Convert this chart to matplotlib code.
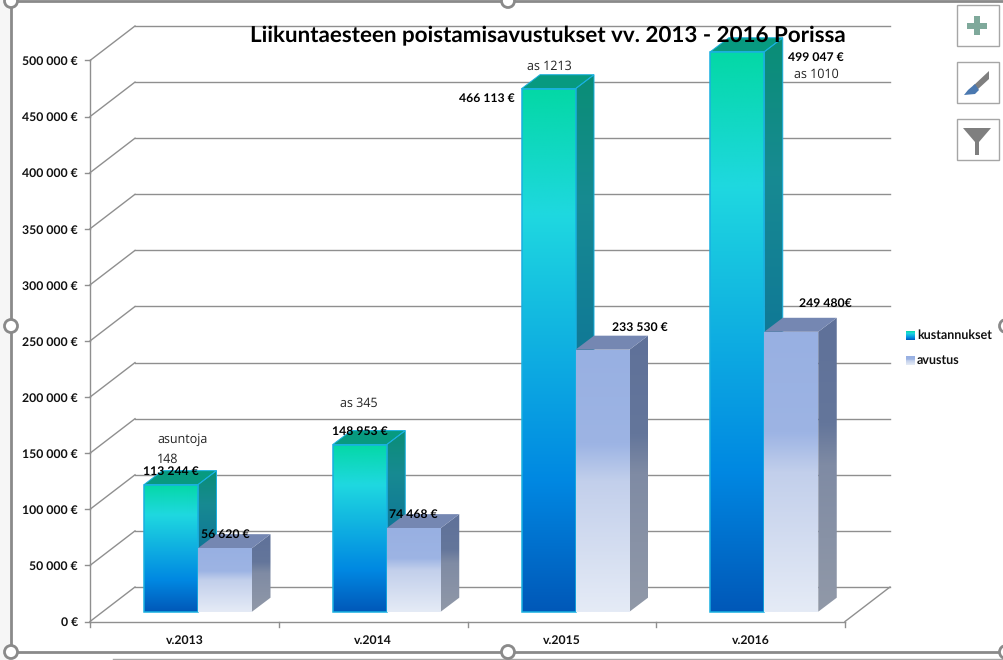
"""Recreate the 3D style column chart of accessibility grants in Pori."""

import matplotlib

matplotlib.use("Agg")
import matplotlib.pyplot as plt
import numpy as np
from matplotlib.colors import LinearSegmentedColormap
from matplotlib.patches import Circle, Polygon, Rectangle

TITLE = "Liikuntaesteen poistamisavustukset vv. 2013 - 2016 Porissa"
CATEGORIES = ["v.2013", "v.2014", "v.2015", "v.2016"]
KUSTANNUKSET = [113244, 148953, 466113, 499047]
AVUSTUS = [56620, 74468, 233530, 249480]
KUSTANNUKSET_LABELS = ["113 244 €", "148 953 €", "466 113 €", "499 047 €"]
AVUSTUS_LABELS = ["56 620 €", "74 468 €", "233 530 €", "249 480€"]
NOTES = ["asuntoja", "148", "as 345", "as 1213", "as 1010"]
TICKS = [0, 50000, 100000, 150000, 200000, 250000, 300000, 350000, 400000, 450000, 500000]
SERIES_NAMES = ["kustannukset", "avustus"]

W, H = 1004, 660
PX_PER_VAL = 561 / 500000
PX_PER_CAT = 188.75
X0, Y0 = 90, 621.5
GRID = "#8f8f8f"
LABEL_SIZE = 8.8

plt.rcParams["font.family"] = ["Lato", "DejaVu Sans"]
plt.rcParams["text.hinting"] = "no_hinting"

BLUE = [(0, "#04d8a6"), (0.24, "#1fd8e0"), (0.75, "#0088e2"), (1, "#0058b8")]
BLUE_SIDE = [(0, "#0a8e76"), (0.24, "#178a92"), (0.75, "#0a6a9a"), (1, "#06508a")]
LIGHT = [(0, "#98b0e2"), (0.36, "#9db4e4"), (0.5, "#c2cfeb"), (1, "#e5ebf6")]
LIGHT_SIDE = [(0, "#5f7199"), (0.36, "#64769b"), (0.5, "#7f8ba4"), (1, "#9199a8")]


def cmap(stops):
    return LinearSegmentedColormap.from_list("g", stops)


def px(x, y):
    """Pixel position to data position."""
    return (x - X0) / PX_PER_CAT, (Y0 - y) / PX_PER_VAL


def dpx(dx, dy):
    """Pixel offset (dy up) to data offset."""
    return dx / PX_PER_CAT, dy / PX_PER_VAL


def gradient_poly(ax, points, stops, zorder):
    pts = np.array(points)
    top, bottom = pts[:, 1].max(), pts[:, 1].min()
    img = ax.imshow(
        np.linspace(0, 1, 256).reshape(-1, 1),
        cmap=cmap(stops),
        extent=(pts[:, 0].min(), pts[:, 0].max(), bottom, top),
        origin="upper",
        aspect="auto",
        zorder=zorder,
        interpolation="bilinear",
    )
    poly = Polygon(pts, closed=True, transform=ax.transData, fc="none", ec="none")
    ax.add_patch(poly)
    img.set_clip_path(poly)


def draw_bar(ax, left, width, value, front, side, top_color, edge, zorder):
    base = dpx(0, 9.8)[1]
    ddx, ddy = dpx(18.5, 14)
    v = base + value
    right = left + width
    side_pts = [(right, base), (right + ddx, base + ddy), (right + ddx, v + ddy), (right, v)]
    top_pts = [(left, v), (right, v), (right + ddx, v + ddy), (left + ddx, v + ddy)]
    gradient_poly(ax, side_pts, side, zorder)
    ax.add_patch(Polygon(top_pts, fc=top_color, ec="none", zorder=zorder))
    if edge:
        ax.add_patch(Polygon(side_pts, fc="none", ec=edge, lw=0.7, zorder=zorder + 0.05))
        ax.add_patch(Polygon(top_pts, fc="none", ec=edge, lw=0.7, zorder=zorder + 0.05))
    gradient_poly(ax, [(left, base), (right, base), (right, v), (left, v)], front, zorder + 0.1)
    if edge:
        ax.add_patch(
            Rectangle((left, base), width, v - base, fc="none", ec=edge, lw=1.1, zorder=zorder + 0.2)
        )


def draw_walls(ax):
    ddx, ddy = dpx(45, 34.5)
    end = dpx(755, 0)[0]
    for tick in TICKS:
        ax.plot([0, ddx], [tick, tick + ddy], color=GRID, lw=1, zorder=1)
        ax.plot([ddx, end + ddx], [tick + ddy, tick + ddy], color=GRID, lw=1, zorder=1)
        ax.plot([-dpx(5, 0)[0], 0], [tick, tick], color=GRID, lw=1, zorder=1)
        ax.text(px(78, 0)[0], tick - dpx(0, 1.2)[1], f"{tick:,}".replace(",", " ") + " €", ha="right",
                va="center", fontsize=LABEL_SIZE, fontweight="bold", color="#111111", zorder=6)
    ax.plot([0, 0], [0, TICKS[-1]], color=GRID, lw=1, zorder=1)
    ax.plot([0, end], [0, 0], color=GRID, lw=1, zorder=1)
    ax.plot([end, end + ddx], [0, ddy], color=GRID, lw=1, zorder=1)
    for i in range(len(CATEGORIES) + 1):
        ax.plot([i, i], [0, -dpx(0, 5)[1]], color=GRID, lw=1, zorder=1)


def draw_chrome(ax):
    """Selection frame and the three chart buttons, in pixel coordinates."""
    ax.add_patch(Rectangle((0, 0), 11, H, fc="#f6f6f6", ec="none", zorder=0))
    ax.plot([11, 11, W], [652, 1, 1], color="#8a8a8a", lw=2, zorder=7)
    ax.plot([11, W], [652, 652], color="#8a8a8a", lw=2, zorder=7)
    ax.plot([113, W], [658.5, 658.5], color="#a8a8a8", lw=1, zorder=7)
    for cx, cy in [(11, 1), (508, 1), (11, 326), (1006, 326), (11, 652), (508, 652), (1006, 652)]:
        ax.add_patch(Circle((cx, cy), 6.5, fc="white", ec="#8a8a8a", lw=2, zorder=8))
    for y in (5, 62, 119):
        ax.add_patch(Rectangle((957, y), 42, 41, fc="white", ec="#a6a6a6", lw=1, zorder=7))
    ax.add_patch(Rectangle((974, 16), 6, 19, fc="#7fa99b", ec="none", zorder=8))
    ax.add_patch(Rectangle((967, 22.5), 20, 6, fc="#7fa99b", ec="none", zorder=8))
    ax.add_patch(Polygon([(989, 71), (989, 79), (977, 90), (973, 86)], fc="#7f7f7f", ec="none", zorder=8))
    ax.add_patch(Polygon([(975, 84), (979, 90), (975, 94), (964, 95), (968, 90)], fc="#4a78b0", ec="none", zorder=8))
    ax.add_patch(Polygon([(963, 128), (991, 128), (979, 142), (979, 155), (975, 155), (975, 142)],
                         fc="#7f7f7f", ec="none", zorder=8))
    ax.text(917, 335, SERIES_NAMES[0], fontsize=9, fontweight="bold", va="center", color="#111111")
    ax.text(917, 360, SERIES_NAMES[1], fontsize=9, fontweight="bold", va="center", color="#111111")
    ax.text(547.5, 36, TITLE, fontsize=16.1, fontweight="bold", ha="center", va="center",
            color="black", zorder=9)


def main():
    fig = plt.figure(figsize=(W / 100, H / 100), dpi=100)
    ax = fig.add_axes([0, 0, 1, 1])
    xlim = (-X0 / PX_PER_CAT, (W - X0) / PX_PER_CAT)
    ylim = ((Y0 - H) / PX_PER_VAL, Y0 / PX_PER_VAL)
    ax.axis("off")
    draw_walls(ax)

    bar_w = 54 / PX_PER_CAT
    starts = [54 / PX_PER_CAT + i for i in range(len(CATEGORIES))]
    for i, left in enumerate(starts):
        draw_bar(ax, left, bar_w, KUSTANNUKSET[i], BLUE, BLUE_SIDE, "#079a80", "#19b0e0", 2 + i)
        draw_bar(ax, left + bar_w, bar_w, AVUSTUS[i], LIGHT, LIGHT_SIDE, "#7587b2", None, 2.5 + i)
        ax.text(i + 0.5, -dpx(0, 18.5)[1], CATEGORIES[i], ha="center", va="center",
                fontsize=LABEL_SIZE, fontweight="bold", color="#111111")
    ax.set_xlim(*xlim)
    ax.set_ylim(*ylim)

    # text labels sit where they were dragged by hand in the original
    label_pos = [(171, 471.5), (360, 431.5), (487, 98), (816, 57.5)]
    for (x, y), text in zip(label_pos, KUSTANNUKSET_LABELS):
        ax.text(*px(x, y), text, ha="center", va="center", fontsize=LABEL_SIZE, fontweight="bold",
                color="black", zorder=10)
    avustus_pos = [(225, 534), (413, 514), (640, 327.5), (825, 303.5)]
    for (x, y), text in zip(avustus_pos, AVUSTUS_LABELS):
        ax.text(*px(x, y), text, ha="center", va="center", fontsize=LABEL_SIZE, fontweight="bold",
                color="black", zorder=10)
    note_pos = [(157, 440), (157, 459), (340, 403), (527, 66), (794, 74)]
    for (x, y), text in zip(note_pos, NOTES):
        ax.text(*px(x, y), text, ha="left", va="center", fontsize=9, color="#222222",
                family=["Open Sans", "DejaVu Sans"], zorder=10)

    chrome = fig.add_axes([0, 0, 1, 1])
    chrome.set_xlim(0, W)
    chrome.set_ylim(H, 0)
    chrome.axis("off")
    chrome.patch.set_alpha(0)
    draw_chrome(chrome)
    for y, stops in ((331, BLUE), (356, LIGHT)):
        chrome.imshow(np.linspace(0, 1, 64).reshape(-1, 1), cmap=cmap(stops), origin="upper",
                      extent=(906, 915, y + 9, y), aspect="auto")
    chrome.set_xlim(0, W)
    chrome.set_ylim(H, 0)

    fig.savefig("out.png", dpi=100, facecolor="white")
    plt.close(fig)


if __name__ == "__main__":
    main()
